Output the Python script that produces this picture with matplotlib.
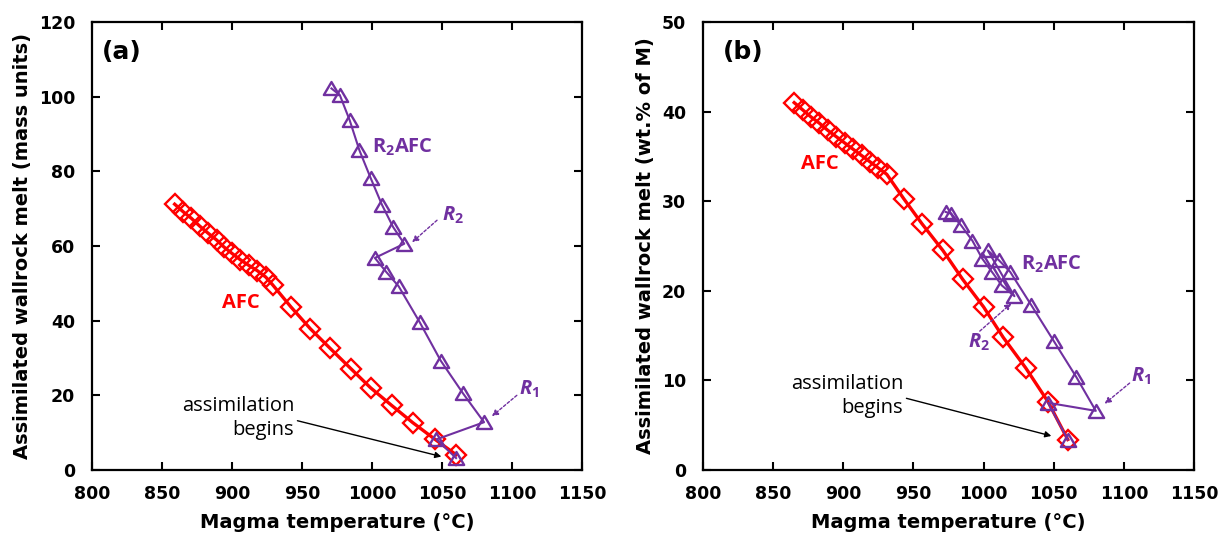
import matplotlib
matplotlib.use("Agg")
import matplotlib.pyplot as plt
from matplotlib.path import Path
from matplotlib import font_manager as fm

# ---- data ----
# (a) assimilated wallrock melt, mass units
afc_a_T = [859, 865, 871, 877, 883, 889, 894, 900, 906, 912, 918, 924, 929,
           942, 956, 970, 985, 999, 1014, 1029, 1045, 1060]
afc_a_M = [71.2, 69.2, 67.4, 65.3, 63.4, 61.6, 59.8, 58.0, 56.3, 54.8, 53.4, 51.7, 49.6,
           43.7, 37.8, 32.6, 27.1, 22.0, 17.3, 12.7, 8.2, 4.1]
r2_a_T = [1060, 1046, 1080, 1065, 1049, 1034, 1019, 1010, 1002,
          1023, 1015, 1007, 999, 991, 984, 977, 971]
r2_a_M = [3.2, 8.2, 12.8, 20.5, 29.3, 39.6, 49.2, 53.1, 56.8,
          60.6, 65.1, 71.1, 78.2, 85.6, 93.7, 100.4, 102.2]

# (b) assimilated wallrock melt, wt.% of M
afc_b_T = [865, 871, 877, 883, 889, 895, 901, 907, 913, 919, 925, 931,
           943, 956, 971, 985, 1000, 1014, 1030, 1046, 1060]
afc_b_W = [41.0, 40.2, 39.4, 38.7, 37.9, 37.2, 36.5, 35.8, 35.1, 34.4, 33.7, 33.0,
           30.3, 27.5, 24.5, 21.3, 18.2, 14.8, 11.4, 7.6, 3.4]
r2_b_T = [1060, 1046, 1080, 1066, 1050, 1034, 1019, 1011, 1003,
          1022, 1013, 1006, 999, 992, 984, 977, 973]
r2_b_W = [3.4, 7.5, 6.6, 10.4, 14.4, 18.4, 22.1, 23.4, 24.5,
          19.4, 20.6, 22.1, 23.6, 25.6, 27.3, 28.6, 28.8]

XTICKS = list(range(800, 1151, 50))
RED = "#FF0000"; PUR = "#7030A0"
ANN = ["Open Sans", "DejaVu Sans"]

# bold-italic face for the R1/R2 tags: first installed of these
names = {f.name for f in fm.fontManager.ttflist
         if f.style == "italic" and f.weight in (700, "bold")}
ITF = next((n for n in ("Open Sans", "Lato", "Noto Sans", "Roboto", "DejaVu Sans") if n in names), "DejaVu Sans")
print("italic font:", ITF)

plt.rcParams["mathtext.fontset"] = "custom"
plt.rcParams["mathtext.rm"] = "Open Sans:bold"
plt.rcParams["mathtext.bf"] = "Open Sans:bold"
plt.rcParams["mathtext.it"] = ITF + ":italic:bold"

TRI = Path([(-1, -0.85), (1, -0.85), (0, 0.85), (0, 0)],
           [Path.MOVETO, Path.LINETO, Path.LINETO, Path.CLOSEPOLY])

fig = plt.figure(figsize=(12.19, 5.35), dpi=100)
ax_a = fig.add_axes([0.0755, 0.1215, 0.402, 0.8374])
ax_b = fig.add_axes([0.5767, 0.1215, 0.4028, 0.8374])


def style(ax, ymax, ystep, ylabel):
    ax.set_xlim(800, 1150); ax.set_ylim(0, ymax)
    ax.set_xticks(XTICKS); ax.set_yticks(range(0, ymax + 1, ystep))
    ax.tick_params(direction="in", length=6, width=1.5, top=True, right=True, labelsize=12.5)
    ax.tick_params(axis="x", pad=11); ax.tick_params(axis="y", pad=12)
    for lab in ax.get_xticklabels() + ax.get_yticklabels():
        lab.set_fontweight("bold")
    for s in ax.spines.values():
        s.set_linewidth(1.6)
    ax.set_xlabel("Magma temperature (°C)", fontsize=14, fontweight="bold", labelpad=7)
    ax.set_ylabel(ylabel, fontsize=14, fontweight="bold", labelpad=5)


def curves(ax, aT, aY, rT, rY):
    ax.plot(aT, aY, color=RED, lw=2.4, marker="D", ms=10, mfc="none", mec=RED, mew=1.7, zorder=3)
    ax.plot(rT, rY, color=PUR, lw=1.5, marker=TRI, ms=11, mfc="none", mec=PUR, mew=1.7, zorder=4)


def dashed_arrow(ax, text, xy, xytext, tx, ty):
    ax.annotate("", xy=xy, xytext=xytext,
                arrowprops=dict(arrowstyle="-|>", color=PUR, lw=1.0, ls=(0, (2, 1.5)),
                                mutation_scale=9, shrinkA=0, shrinkB=0))
    ax.text(tx, ty, text, color=PUR, fontsize=14.5, ha="left", va="center", family=ANN)


# ---- panel (a) ----
curves(ax_a, afc_a_T, afc_a_M, r2_a_T, r2_a_M)
style(ax_a, 120, 20, "Assimilated wallrock melt (mass units)")
ax_a.text(807, 112, "(a)", fontsize=18, fontweight="bold", va="center")
ax_a.text(906, 44.6, "AFC", color=RED, fontsize=14.5, fontweight="bold", ha="center", va="center", family=ANN)
ax_a.text(1000, 86.5, r"R$_\mathbf{2}$AFC", color=PUR, fontsize=14.5, fontweight="bold", va="center", family=ANN)
dashed_arrow(ax_a, r"$\mathit{R_2}$", (1028.6, 61.0), (1046.4, 66.9), 1050, 68.1)
dashed_arrow(ax_a, r"$\mathit{R_1}$", (1085.6, 14.4), (1103.4, 20.0), 1104.6, 21.7)
ax_a.text(944.5, 13.9, "assimilation\nbegins", fontsize=14.5, ha="right", va="center",
          multialignment="right", family=ANN, linespacing=1.25)
ax_a.annotate("", xy=(1049.5, 3.6), xytext=(946.7, 13.2),
              arrowprops=dict(arrowstyle="-|>", color="black", lw=1.0, mutation_scale=9,
                              shrinkA=0, shrinkB=0))

# ---- panel (b) ----
curves(ax_b, afc_b_T, afc_b_W, r2_b_T, r2_b_W)
style(ax_b, 50, 10, "Assimilated wallrock melt (wt.% of M)")
ax_b.text(814.4, 46.6, "(b)", fontsize=18, fontweight="bold", va="center")
ax_b.text(883.3, 34.2, "AFC", color=RED, fontsize=14.5, fontweight="bold", ha="center", va="center", family=ANN)
ax_b.text(1027, 22.9, r"R$_\mathbf{2}$AFC", color=PUR, fontsize=14.5, fontweight="bold", va="center", family=ANN)
dashed_arrow(ax_b, r"$\mathit{R_2}$", (1019.8, 18.6), (997.3, 15.5), 989, 14.2)
dashed_arrow(ax_b, r"$\mathit{R_1}$", (1086.3, 7.4), (1104.1, 9.7), 1105.3, 10.5)
ax_b.text(942.6, 8.25, "assimilation\nbegins", fontsize=14.5, ha="right", va="center",
          multialignment="right", family=ANN, linespacing=1.25)
ax_b.annotate("", xy=(1048.3, 3.8), xytext=(945, 8.0),
              arrowprops=dict(arrowstyle="-|>", color="black", lw=1.0, mutation_scale=9,
                              shrinkA=0, shrinkB=0))

fig.savefig("out.png", dpi=100, facecolor="white")
